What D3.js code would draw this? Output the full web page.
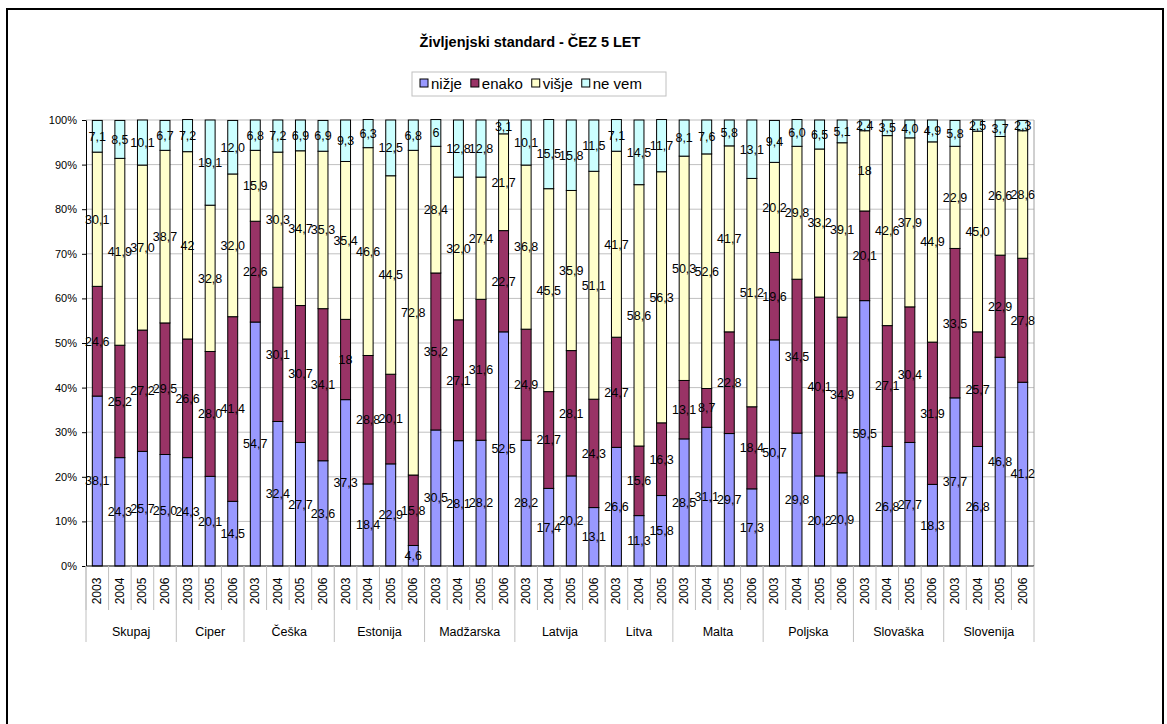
<!DOCTYPE html>
<html>
<head>
  <meta charset="utf-8">
  <script src="https://d3js.org/d3.v7.min.js"></script>
  <style>
    body { margin: 0; background: #fff; }
    svg text { font-family: "Liberation Sans", Arial, sans-serif; }
  </style>
</head>
<body>
  <svg id="viz"></svg>
  <script>
    // categories: country groups and years
    let groups = ["Skupaj", "Ciper", "Češka", "Estonija", "Madžarska", "Latvija", "Litva", "Malta", "Poljska", "Slovaška", "Slovenija"];
    let years = [
      ["2003", "2004", "2005", "2006"],
      ["2003", "2005", "2006"],
      ["2003", "2004", "2005", "2006"],
      ["2003", "2004", "2005", "2006"],
      ["2003", "2004", "2005", "2006"],
      ["2003", "2004", "2005", "2006"],
      ["2003", "2004", "2005"],
      ["2003", "2004", "2005", "2006"],
      ["2003", "2004", "2005", "2006"],
      ["2003", "2004", "2005", "2006"],
      ["2003", "2004", "2005", "2006"]
    ];

    // series values (%), one per bar in the order above
    let nizje = [38.1, 24.3, 25.7, 25.0, 24.3, 20.1, 14.5, 54.7, 32.4, 27.7, 23.6, 37.3, 18.4, 22.9, 4.6,
      30.5, 28.1, 28.2, 52.5, 28.2, 17.4, 20.2, 13.1, 26.6, 11.3, 15.8, 28.5, 31.1, 29.7, 17.3,
      50.7, 29.8, 20.2, 20.9, 59.5, 26.8, 27.7, 18.3, 37.7, 26.8, 46.8, 41.2];
    let enako = [24.6, 25.2, 27.2, 29.5, 26.6, 28.0, 41.4, 22.6, 30.1, 30.7, 34.1, 18, 28.8, 20.1, 15.8,
      35.2, 27.1, 31.6, 22.7, 24.9, 21.7, 28.1, 24.3, 24.7, 15.6, 16.3, 13.1, 8.7, 22.8, 18.4,
      19.6, 34.5, 40.1, 34.9, 20.1, 27.1, 30.4, 31.9, 33.5, 25.7, 22.9, 27.8];
    let visje = [30.1, 41.9, 37.0, 38.7, 42, 32.8, 32.0, 15.9, 30.3, 34.7, 35.3, 35.4, 46.6, 44.5, 72.8,
      28.4, 32.0, 27.4, 21.7, 36.8, 45.5, 35.9, 51.1, 41.7, 58.6, 56.3, 50.3, 52.6, 41.7, 51.2,
      20.2, 29.8, 33.2, 39.1, 18, 42.6, 37.9, 44.9, 22.9, 45.0, 26.6, 28.6];
    let neVem = [7.1, 8.5, 10.1, 6.7, 7.2, 19.1, 12.0, 6.8, 7.2, 6.9, 6.9, 9.3, 6.3, 12.5, 6.8,
      6, 12.8, 12.8, 3.1, 10.1, 15.5, 15.8, 11.5, 7.1, 14.5, 11.7, 8.1, 7.6, 5.8, 13.1,
      9.4, 6.0, 6.5, 5.1, 2.4, 3.5, 4.0, 4.9, 5.8, 2.5, 3.7, 2.3];

    let seriesNames = ["nižje", "enako", "višje", "ne vem"];
    let seriesColors = ["#9999ff", "#993366", "#ffffcc", "#ccffff"];
    let yTicks = [0, 10, 20, 30, 40, 50, 60, 70, 80, 90, 100];

    // labels that the original shows without a decimal
    let wholeLabels = ["Ciper 2003 višje", "Estonija 2003 enako", "Madžarska 2003 ne vem", "Slovaška 2003 višje"];

    // build rows
    let rows = [];
    groups.forEach((g, gi) => years[gi].forEach(y => rows.push({ group: g, year: y, key: g + " " + y })));
    rows.forEach((r, i) => {
      r["nižje"] = nizje[i];
      r["enako"] = enako[i];
      r["višje"] = visje[i];
      r["ne vem"] = neVem[i];
    });

    let width = 1167, height = 724;
    let svg = d3.select("#viz").attr("width", width).attr("height", height);

    // outer frame
    svg.append("rect")
      .attr("x", 7).attr("y", 9)
      .attr("width", 1156).attr("height", 740)
      .attr("fill", "#fff").attr("stroke", "#000").attr("stroke-width", 2);

    // title
    svg.append("text")
      .attr("x", 530).attr("y", 47)
      .attr("text-anchor", "middle")
      .attr("font-size", 14.5).attr("font-weight", "bold")
      .text("Življenjski standard - ČEZ 5 LET");

    let pLeft = 86, pRight = 1034, pTop = 120, pBottom = 566;

    let x = d3.scaleBand().domain(rows.map(d => d.key)).range([pLeft, pRight]).padding(0);
    let y = d3.scaleLinear().domain([0, 100]).range([pBottom, pTop]);

    // gridlines
    svg.append("g")
      .selectAll("line")
      .data(yTicks.slice(1))
      .join("line")
      .attr("x1", pLeft).attr("x2", pRight)
      .attr("y1", d => y(d)).attr("y2", d => y(d))
      .attr("stroke", "#c0c0c0").attr("stroke-width", 1);

    // plot border right
    svg.append("line")
      .attr("x1", pRight).attr("x2", pRight).attr("y1", pTop).attr("y2", pBottom)
      .attr("stroke", "#a0a0a0");

    // y axis
    let yAxis = svg.append("g")
      .attr("transform", `translate(${pLeft},0)`)
      .call(d3.axisLeft(y).tickValues(yTicks).tickFormat(d => d + "%").tickSize(4).tickSizeOuter(0));
    yAxis.select(".domain").attr("stroke", "#000");
    yAxis.selectAll("text").attr("font-size", 11).attr("fill", "#000").attr("x", -9);

    // stacked bars
    let stack = d3.stack().keys(seriesNames);
    let stacked = stack(rows);
    let fmt = d3.formatLocale({ decimal: ",", thousands: ".", grouping: [3], currency: ["", ""] }).format(".1f");
    let barW = x.bandwidth() * 0.44;
    let barOff = (x.bandwidth() - barW) / 2;

    let layers = svg.append("g")
      .selectAll("g")
      .data(stacked)
      .join("g")
      .attr("fill", (d, i) => seriesColors[i]);

    layers.selectAll("rect")
      .data(d => d)
      .join("rect")
      .attr("x", d => x(d.data.key) + barOff)
      .attr("width", barW)
      .attr("y", d => y(d[1]))
      .attr("height", d => y(d[0]) - y(d[1]))
      .attr("stroke", "#000").attr("stroke-width", 1);

    // x axis line
    svg.append("line")
      .attr("x1", pLeft).attr("x2", pRight).attr("y1", pBottom).attr("y2", pBottom)
      .attr("stroke", "#000");

    // data labels
    let labels = svg.append("g");
    stacked.forEach(layer => {
      labels.selectAll(null)
        .data(layer)
        .join("text")
        .attr("x", d => x(d.data.key) + x.bandwidth() / 2)
        .attr("y", d => y((d[0] + d[1]) / 2))
        .attr("dy", "0.35em")
        .attr("text-anchor", "middle")
        .attr("font-size", 12.5)
        .text(d => {
          let v = d.data[layer.key];
          return wholeLabels.includes(d.data.key + " " + layer.key) ? String(v) : fmt(v);
        });
    });

    // category axis: year separators and labels
    let axisG = svg.append("g");
    axisG.selectAll("line.yr")
      .data(rows)
      .join("line")
      .attr("class", "yr")
      .attr("x1", d => x(d.key)).attr("x2", d => x(d.key))
      .attr("y1", pBottom).attr("y2", 610)
      .attr("stroke", "#c0c0c0");

    axisG.selectAll("text.yr")
      .data(rows)
      .join("text")
      .attr("class", "yr")
      .attr("transform", d => `translate(${x(d.key) + x.bandwidth() / 2 + 4},591) rotate(-90)`)
      .attr("text-anchor", "middle")
      .attr("font-size", 12)
      .text(d => d.year);

    // group separators and labels
    let groupInfo = groups.map((g, gi) => {
      let ks = rows.filter(r => r.group === g).map(r => r.key);
      return { name: g, x0: x(ks[0]), x1: x(ks[ks.length - 1]) + x.bandwidth() };
    });
    axisG.selectAll("line.grp")
      .data(groupInfo.map(d => d.x0).concat([pRight]))
      .join("line")
      .attr("class", "grp")
      .attr("x1", d => d).attr("x2", d => d)
      .attr("y1", pBottom).attr("y2", 642)
      .attr("stroke", "#c0c0c0");
    axisG.selectAll("text.grp")
      .data(groupInfo)
      .join("text")
      .attr("class", "grp")
      .attr("x", d => (d.x0 + d.x1) / 2)
      .attr("y", 636)
      .attr("text-anchor", "middle")
      .attr("font-size", 12.5)
      .text(d => d.name);

    // legend
    let legend = svg.append("g");
    legend.append("rect")
      .attr("x", 412).attr("y", 72).attr("width", 254).attr("height", 24)
      .attr("fill", "#fff").attr("stroke", "#c0c0c0");
    let lx = 420;
    seriesNames.forEach((s, i) => {
      legend.append("rect")
        .attr("x", lx).attr("y", 79).attr("width", 8).attr("height", 8)
        .attr("fill", seriesColors[i]).attr("stroke", "#000");
      let t = legend.append("text")
        .attr("x", lx + 11).attr("y", 89)
        .attr("font-size", 15)
        .text(s);
      lx += 11 + t.node().getComputedTextLength() + 9;
    });
  </script>
</body>
</html>
